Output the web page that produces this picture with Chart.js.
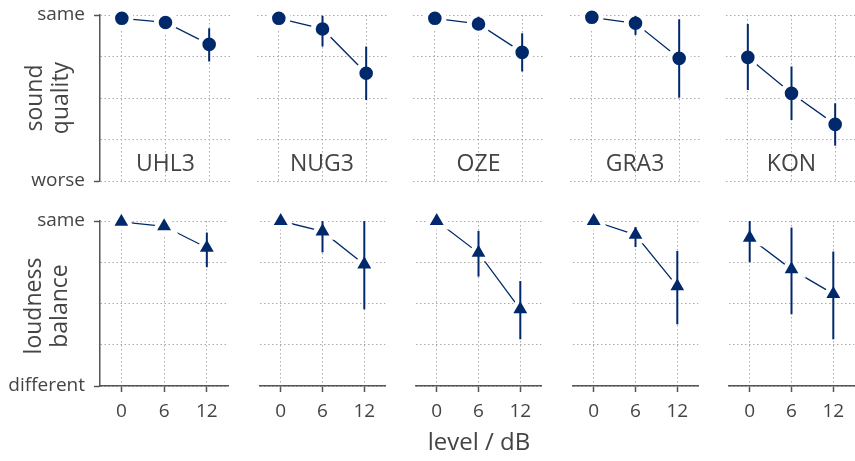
<!DOCTYPE html>
<html lang="en">
<head>
<meta charset="UTF-8">
<title>Sound quality and loudness balance</title>
<script src="https://cdn.jsdelivr.net/npm/chart.js"></script>
<style>
  body { margin: 0; background: #fff; font-family: "Open Sans", sans-serif; color: #444; }
  #wrap { position: relative; width: 855px; height: 461px; overflow: hidden; }
  canvas { position: absolute; }
  .label { position: absolute; transform: translate(-50%, -50%); white-space: nowrap; font-size: 23px; }
  .ytitle { position: absolute; transform: translate(-50%, -50%) rotate(-90deg); text-align: center;
            font-size: 23px; line-height: 26px; white-space: nowrap; }
</style>
</head>
<body>
<div id="wrap"></div>
<script>
// level steps (dB) and systems
const levels = [0, 6, 12];
const systems = ['UHL3', 'NUG3', 'OZE', 'GRA3', 'KON'];

// sound quality: 1 = same, 0 = worse
const qualityMean = [
    [0.980, 0.955, 0.823],
    [0.980, 0.916, 0.649],
    [0.980, 0.946, 0.775],
    [0.986, 0.950, 0.739],
    [0.745, 0.528, 0.341]
];
const qualityLow = [
    [0.965, 0.935, 0.720],
    [0.965, 0.810, 0.488],
    [0.965, 0.910, 0.660],
    [0.970, 0.880, 0.502],
    [0.548, 0.367, 0.213]
];
const qualityHigh = [
    [0.995, 0.975, 0.920],
    [0.995, 0.995, 0.810],
    [0.995, 0.990, 0.890],
    [1.000, 0.995, 0.974],
    [0.946, 0.690, 0.468]
];

// loudness balance: 1 = same, 0 = different
const balanceMean = [
    [0.995, 0.968, 0.838],
    [1.000, 0.937, 0.737],
    [1.000, 0.807, 0.465],
    [1.000, 0.916, 0.604],
    [0.898, 0.707, 0.558]
];
const balanceLow = [
    [0.980, 0.950, 0.720],
    [0.990, 0.810, 0.465],
    [0.990, 0.663, 0.283],
    [0.990, 0.842, 0.374],
    [0.750, 0.435, 0.283]
];
const balanceHigh = [
    [1.000, 0.985, 0.930],
    [1.000, 1.000, 1.000],
    [1.000, 0.940, 0.636],
    [1.000, 0.964, 0.818],
    [1.000, 0.960, 0.815]
];

const qualityTicks = ['worse', 'same'];
const balanceTicks = ['different', 'same'];
const gridValues = [0, 0.25, 0.5, 0.75, 1];

const navy = '#00296b';
const axisColor = '#555';
const gridColor = '#aaa';
const textColor = '#444';

const rows = [
    { mean: qualityMean, low: qualityLow, high: qualityHigh, ticks: qualityTicks,
      marker: 'circle', radius: 9.2, border: 4.8, top: -6, padTop: 21, height: 166, xh: 21 },
    { mean: balanceMean, low: balanceLow, high: balanceHigh, ticks: balanceTicks,
      marker: 'triangle', radius: 12.4, border: 4.4, top: 200, padTop: 21, height: 165, xh: 40 }
];

const wrap = document.getElementById('wrap');
const areaWidth = 131;

function addText(cls, text, x, y, size) {
    const d = document.createElement('div');
    d.className = cls;
    d.innerHTML = text;
    d.style.left = x + 'px';
    d.style.top = y + 'px';
    if (size) d.style.fontSize = size + 'px';
    wrap.appendChild(d);
}

rows.forEach((row, r) => {
    systems.forEach((name, c) => {
        const areaLeft = 100 + 156.5 * c;
        const left = c === 0 ? 0 : Math.round(areaLeft - 14);
        const yw = Math.round(areaLeft) - left;
        const canvas = document.createElement('canvas');
        canvas.width = yw + areaWidth + 14;
        canvas.height = row.padTop + row.height + row.xh;
        canvas.style.left = left + 'px';
        canvas.style.top = row.top + 'px';
        wrap.appendChild(canvas);

        const datasets = [{
            type: 'line',
            data: levels.map((x, k) => ({ x: x, y: row.mean[c][k] })),
            borderColor: navy,
            borderWidth: 1.3,
            pointStyle: row.marker,
            pointRadius: row.radius,
            pointBackgroundColor: navy,
            pointBorderColor: '#fff',
            pointBorderWidth: row.border,
            clip: false,
            order: 2
        }];
        levels.forEach((x, k) => {
            datasets.push({
                type: 'line',
                data: [{ x: x, y: row.low[c][k] }, { x: x, y: row.high[c][k] }],
                borderColor: navy,
                borderWidth: 2,
                pointRadius: 0,
                clip: false,
                order: 1
            });
        });

        new Chart(canvas, {
            type: 'line',
            data: { datasets: datasets },
            options: {
                responsive: false,
                animation: false,
                events: [],
                layout: { padding: { top: row.padTop, right: 14, left: 0, bottom: 0 } },
                plugins: { legend: { display: false }, tooltip: { enabled: false } },
                scales: {
                    x: {
                        type: 'linear', min: -3, max: 15,
                        afterBuildTicks: s => { s.ticks = levels.map(v => ({ value: v })); },
                        afterFit: s => { s.height = row.xh; },
                        ticks: {
                            display: r === 1, color: textColor, padding: 8,
                            font: { family: 'Open Sans', size: 19 }
                        },
                        grid: {
                            color: gridColor, lineWidth: 1,
                            drawTicks: r === 1, tickLength: 6, tickColor: axisColor, tickWidth: 1.5
                        },
                        border: { display: r === 1, color: axisColor, width: 1.5, dash: [1.5, 2.5] }
                    },
                    y: {
                        type: 'linear', min: 0, max: 1,
                        afterBuildTicks: s => { s.ticks = gridValues.map(v => ({ value: v })); },
                        afterFit: s => { s.width = yw; },
                        ticks: {
                            display: c === 0, color: textColor, padding: 9,
                            font: { family: 'Open Sans', size: 19 },
                            callback: v => v === 1 ? row.ticks[1] : (v === 0 ? row.ticks[0] : '')
                        },
                        grid: {
                            color: gridColor, lineWidth: 1,
                            drawTicks: c === 0, tickLength: 6, tickWidth: 1.5,
                            tickColor: ctx => (ctx.tick && (ctx.tick.value === 0 || ctx.tick.value === 1)) ? axisColor : 'rgba(0,0,0,0)'
                        },
                        border: { display: c === 0, color: axisColor, width: 1.5, dash: [1.5, 2.5] }
                    }
                }
            }
        });

        if (r === 0) addText('label', name, areaLeft + areaWidth / 2, 162);
    });
});

addText('ytitle', 'sound<br>quality', 46, 98);
addText('ytitle', 'loudness<br>balance', 45, 306);
addText('label', 'level / dB', 479, 440, 24);
</script>
</body>
</html>
